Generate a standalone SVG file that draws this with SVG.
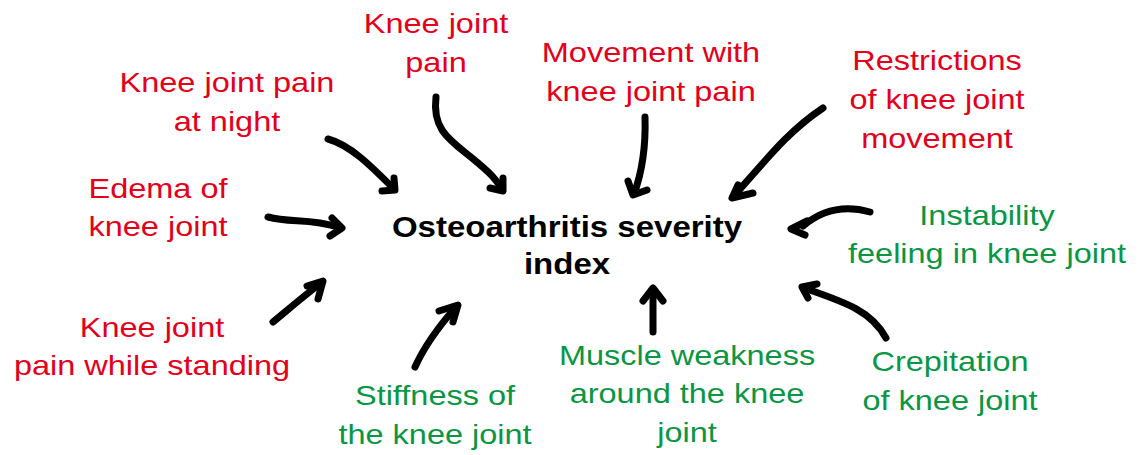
<svg xmlns="http://www.w3.org/2000/svg" width="1139" height="455" viewBox="0 0 1139 455">
<style>
text{font-family:"Liberation Sans",Arial,sans-serif;font-size:28px;text-anchor:middle}
.r{fill:#e3001b}
.g{fill:#0a9644}
.t{font-weight:bold;font-size:30px;fill:#000}
.c path{fill:none;stroke:#000;stroke-width:7;stroke-linecap:round;stroke-linejoin:round}
</style>
<rect width="1139" height="455" fill="#fff"/>
<g id="center"><g transform="matrix(1.1 0 0 1 567 0)"><text class="t" x="0" y="237">Osteoarthritis severity</text><text class="t" x="0" y="274">index</text></g></g>
<g id="n1"><g transform="matrix(1.16 0 0 1 227 0)"><text class="r" x="0" y="92">Knee joint pain</text><text class="r" x="0" y="131">at night</text></g></g>
<g id="n2"><g transform="matrix(1.16 0 0 1 158 0)"><text class="r" x="0" y="198">Edema of</text><text class="r" x="0" y="236">knee joint</text></g></g>
<g id="n3"><g transform="matrix(1.16 0 0 1 436 0)"><text class="r" x="0" y="33">Knee joint</text><text class="r" x="0" y="72">pain</text></g></g>
<g id="n4"><g transform="matrix(1.16 0 0 1 651 0)"><text class="r" x="0" y="62">Movement with</text><text class="r" x="0" y="101">knee joint pain</text></g></g>
<g id="n5"><g transform="matrix(1.16 0 0 1 937 0)"><text class="r" x="0" y="70">Restrictions</text><text class="r" x="0" y="109">of knee joint</text><text class="r" x="0" y="148">movement</text></g></g>
<g id="n6"><g transform="matrix(1.16 0 0 1 987 0)"><text class="g" x="0" y="225">Instability</text><text class="g" x="0" y="263">feeling in knee joint</text></g></g>
<g id="n7"><g transform="matrix(1.16 0 0 1 152 0)"><text class="r" x="0" y="337">Knee joint</text><text class="r" x="0" y="375">pain while standing</text></g></g>
<g id="n8"><g transform="matrix(1.16 0 0 1 435 0)"><text class="g" x="0" y="405">Stiffness of</text><text class="g" x="0" y="444">the knee joint</text></g></g>
<g id="n9"><g transform="matrix(1.16 0 0 1 687 0)"><text class="g" x="0" y="365">Muscle weakness</text><text class="g" x="0" y="403">around the knee</text><text class="g" x="0" y="442">joint</text></g></g>
<g id="n10"><g transform="matrix(1.16 0 0 1 950 0)"><text class="g" x="0" y="371">Crepitation</text><text class="g" x="0" y="410">of knee joint</text></g></g>
<g id="connectors" class="c">
<path d="M328,139 C350,145 370,165 393,188"/><path d="M382,191 L395,190 L394,178"/>
<path d="M268,217 C290,223 310,218 338,227"/><path d="M332,218 L342,228 L330,236"/>
<path d="M436,97 C432,130 450,140 472,158 S496,180 502,189"/><path d="M490,188 L503,191 L503,178"/>
<path d="M645,117 C646,150 641,175 634,194"/><path d="M628,181 L633,195 L647,190"/>
<path d="M823,108 C790,130 770,155 734,196"/><path d="M738,185 L732,198 L753,193"/>
<path d="M870,212 C845,205 822,210 803,226"/><path d="M807,221 L791,229 L805,235"/>
<path d="M273,322 C290,308 305,295 321,283"/><path d="M307,286 L323,281 L318,299"/>
<path d="M415,367 C425,345 440,325 456,307"/><path d="M439,311 L458,305 L453,322"/>
<path d="M653,332 L653,290"/><path d="M643,301 L653,288 L663,301"/>
<path d="M886,338 C872,312 848,303 804,288"/><path d="M817,284 L802,287 L808,298"/>
</g>
</svg>
